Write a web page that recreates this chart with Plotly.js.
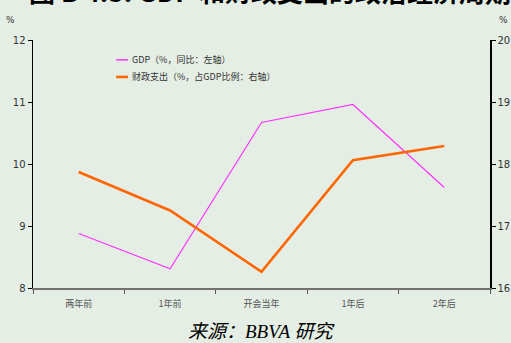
<!DOCTYPE html>
<html>
<head>
<meta charset="utf-8">
<script src="https://cdn.plot.ly/plotly-3.0.1.min.js"></script>
<style>
html,body{margin:0;padding:0;background:#e4eee4;}
#chart{width:511px;height:343px;}
</style>
</head>
<body>
<div id="chart"></div>
<script>
var categories = ['两年前', '1年前', '开会当年', '1年后', '2年后'];
var gdpValues = [8.88, 8.31, 10.67, 10.96, 9.62];
var fiscalValues = [17.87, 17.25, 16.26, 18.06, 18.29];
var gdpName = 'GDP（%，同比：左轴）';
var fiscalName = '财政支出（%，占GDP比例：右轴）';
var leftTicks = [8, 9, 10, 11, 12];
var rightTicks = [16, 17, 18, 19, 20];
var titleLeft = '图 B 4.3: GDP';
var titleRight = '和财政支出的政治经济周期';

var bg = '#e4eee4';
var pink = '#ff33ff';
var orange = '#ff6600';

var traces = [
  {x: categories, y: gdpValues, type: 'scatter', mode: 'lines', name: gdpName,
   line: {color: pink, width: 1.2}, yaxis: 'y', showlegend: false},
  {x: categories, y: fiscalValues, type: 'scatter', mode: 'lines', name: fiscalName,
   line: {color: orange, width: 2.6}, yaxis: 'y2', showlegend: false}
];

var tickFont = {family: 'DejaVu Sans, Noto Sans CJK SC', size: 10, color: '#333333'};
var titleFont = {family: 'Noto Sans CJK SC', size: 26, color: '#000000'};

var layout = {
  width: 511, height: 343,
  paper_bgcolor: bg, plot_bgcolor: bg,
  margin: {l: 33, r: 21, t: 40, b: 55},
  showlegend: false,
  xaxis: {
    type: 'category', range: [-0.5, 4.5], tickson: 'boundaries',
    showline: true, linecolor: '#707070', linewidth: 2,
    ticks: 'outside', ticklen: 4, tickcolor: '#555555', tickwidth: 1,
    ticklabelstandoff: 6,
    showgrid: false, zeroline: false,
    tickfont: {family: 'Noto Sans CJK SC', size: 9, color: '#555555'},
    fixedrange: true
  },
  yaxis: {
    range: [8, 12], tickvals: leftTicks, ticktext: leftTicks.map(String),
    showline: true, linecolor: '#000000', linewidth: 1.5,
    ticks: 'outside', ticklen: 4, tickcolor: '#000000',
    showgrid: false, zeroline: false, tickfont: tickFont
  },
  yaxis2: {
    range: [16, 20], tickvals: rightTicks, ticktext: rightTicks.map(String),
    overlaying: 'y', side: 'right',
    showline: true, linecolor: '#000000', linewidth: 1.5,
    ticks: 'outside', ticklen: 4, tickcolor: '#000000',
    showgrid: false, zeroline: false, tickfont: tickFont
  },
  shapes: [
    {type: 'line', xref: 'paper', yref: 'paper', x0: 0.182, x1: 0.208, y0: 0.92, y1: 0.92,
     line: {color: pink, width: 1.5}},
    {type: 'line', xref: 'paper', yref: 'paper', x0: 0.182, x1: 0.208, y0: 0.851, y1: 0.851,
     line: {color: orange, width: 2.6}}
  ],
  annotations: [
    {text: '<b>' + titleLeft + '</b>', xref: 'paper', yref: 'paper',
     x: -0.013, y: 1.2, xanchor: 'left', yanchor: 'middle', showarrow: false, font: titleFont},
    {text: '<b>' + titleRight + '</b>', xref: 'paper', yref: 'paper',
     x: 0.359, y: 1.2, xanchor: 'left', yanchor: 'middle', showarrow: false, font: titleFont},
    {text: '%', xref: 'paper', yref: 'paper', x: -0.05, y: 1.08, xanchor: 'center', yanchor: 'middle',
     showarrow: false, font: {family: 'DejaVu Sans', size: 9, color: '#333333'}},
    {text: '%', xref: 'paper', yref: 'paper', x: 1.03, y: 1.08, xanchor: 'center', yanchor: 'middle',
     showarrow: false, font: {family: 'DejaVu Sans', size: 9, color: '#333333'}},
    {text: gdpName, xref: 'paper', yref: 'paper', x: 0.212, y: 0.92, xanchor: 'left', yanchor: 'middle',
     showarrow: false, font: {family: 'Noto Sans CJK SC', size: 9, color: '#333333'}},
    {text: fiscalName, xref: 'paper', yref: 'paper', x: 0.212, y: 0.851, xanchor: 'left', yanchor: 'middle',
     showarrow: false, font: {family: 'Noto Sans CJK SC', size: 9, color: '#333333'}},
    {text: '<i>来源：BBVA 研究</i>', xref: 'paper', yref: 'paper', x: 0.5, y: -0.175, xanchor: 'center', yanchor: 'middle',
     showarrow: false, font: {family: 'Liberation Serif, Noto Sans CJK SC', size: 19, color: '#000000'}}
  ]
};

Plotly.newPlot('chart', traces, layout, {displayModeBar: false, staticPlot: true});
</script>
</body>
</html>
